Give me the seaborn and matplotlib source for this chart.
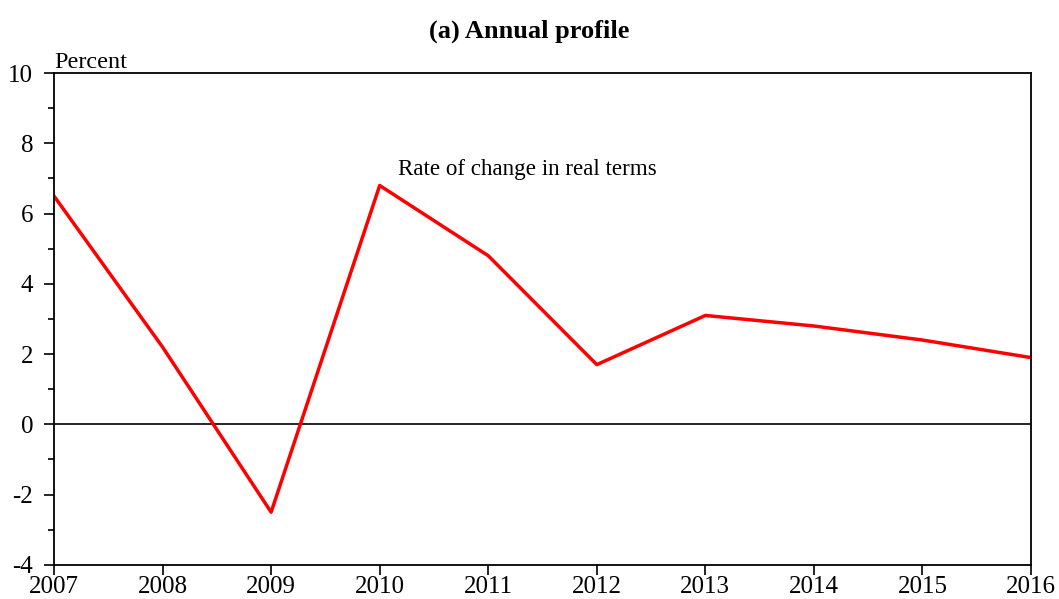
import pandas as pd
import matplotlib.pyplot as plt
import seaborn as sns
from matplotlib.ticker import MultipleLocator

years = [2007, 2008, 2009, 2010, 2011, 2012, 2013, 2014, 2015, 2016]
rate_real = [6.5, 2.2, -2.5, 6.8, 4.8, 1.7, 3.1, 2.8, 2.4, 1.9]

data = pd.DataFrame({'year': years, 'rate': rate_real})

sns.set_theme(style='ticks')
plt.rcParams['font.family'] = ['Liberation Serif', 'DejaVu Serif']
plt.rcParams['axes.unicode_minus'] = False
plt.rcParams['text.color'] = 'black'
plt.rcParams['xtick.color'] = 'black'
plt.rcParams['ytick.color'] = 'black'

fig = plt.figure(figsize=(10.59, 5.99), dpi=100)
ax = fig.add_axes([0.051, 0.057, 0.9226, 0.821])

ax.axhline(0, color='black', lw=1.2, zorder=1)
sns.lineplot(data=data, x='year', y='rate', color='#ff0000', lw=2.5, ax=ax, zorder=2)

ax.set_xlim(2007, 2016)
ax.set_ylim(-4, 10)
ax.set_xticks(years)
ax.yaxis.set_major_locator(MultipleLocator(2))
ax.yaxis.set_minor_locator(MultipleLocator(1))
ax.tick_params(axis='both', which='major', labelsize=18, direction='out',
               length=7, width=1.2, color='black')
ax.tick_params(axis='x', which='major', pad=1)
ax.tick_params(axis='y', which='major', pad=8)
ax.tick_params(axis='y', which='minor', direction='out', length=4, width=1.2, color='black')
ax.set_xlabel('')
ax.set_ylabel('')
for s in ax.spines.values():
    s.set_color('black')
    s.set_linewidth(1.3)

ax.text(0.0, 1.0, 'Percent', transform=ax.transAxes, fontsize=17.5,
        ha='left', va='bottom')
ax.text(2010.17, 7.25, 'Rate of change in real terms', fontsize=16.6,
        ha='left', va='center')
fig.suptitle('(a) Annual profile', fontsize=19, fontweight='bold', y=0.968)

fig.savefig('out.png', dpi=100)
